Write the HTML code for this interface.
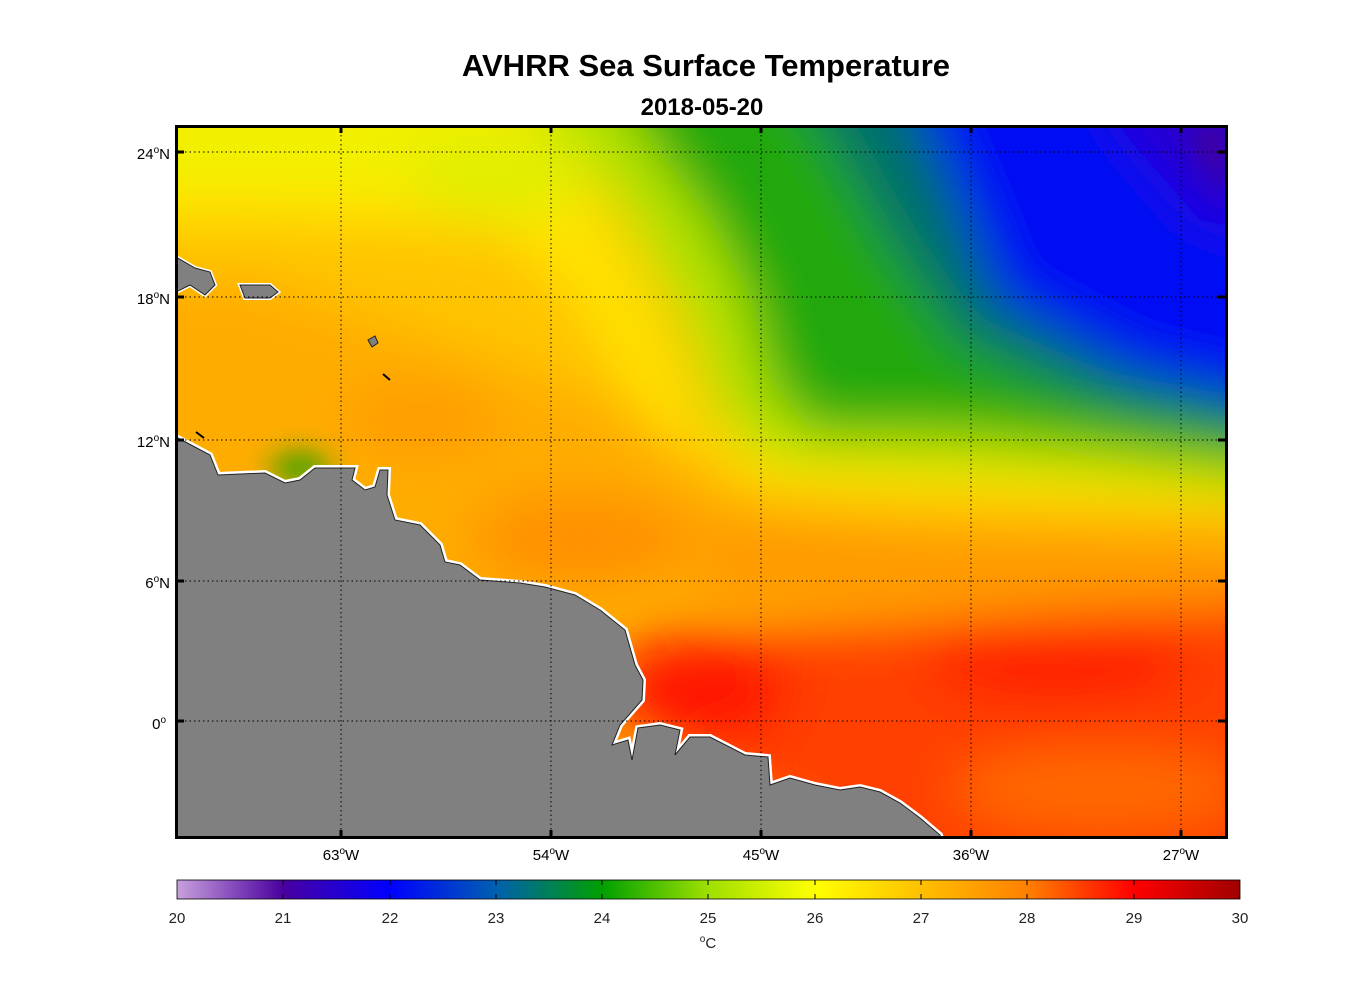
<!DOCTYPE html>
<html><head><meta charset="utf-8"><style>
body{margin:0;background:#fff;}
svg text{font-family:"Liberation Sans",Arial,sans-serif;}
</style></head><body>
<svg width="1356" height="1000" viewBox="0 0 1356 1000" xmlns="http://www.w3.org/2000/svg">
<defs>
<clipPath id="pc"><rect x="176" y="126" width="1050" height="711"/></clipPath>
<filter id="bl" filterUnits="userSpaceOnUse" x="0" y="0" width="1356" height="1000"><feGaussianBlur stdDeviation="26"/></filter>
<filter id="bl2" filterUnits="userSpaceOnUse" x="0" y="0" width="1356" height="1000"><feGaussianBlur stdDeviation="14"/></filter>
<linearGradient id="cb" x1="0" x2="1" y1="0" y2="0">
<stop offset="0" stop-color="#c8a0dc"/>
<stop offset="0.1" stop-color="#4a00a0"/>
<stop offset="0.2" stop-color="#0000ff"/>
<stop offset="0.3" stop-color="#0060b0"/>
<stop offset="0.4" stop-color="#00a000"/>
<stop offset="0.5" stop-color="#9fe000"/>
<stop offset="0.6" stop-color="#ffff00"/>
<stop offset="0.7" stop-color="#ffc000"/>
<stop offset="0.8" stop-color="#ff8000"/>
<stop offset="0.9" stop-color="#ff0000"/>
<stop offset="1" stop-color="#a00000"/>
</linearGradient>
</defs>
<text x="706" y="76" font-size="31" font-weight="bold" text-anchor="middle">AVHRR Sea Surface Temperature</text>
<text x="702" y="115" font-size="24" font-weight="bold" text-anchor="middle">2018-05-20</text>
<g clip-path="url(#pc)">
<rect x="176" y="126" width="1050" height="711" fill="#ffac00"/>
<g filter="url(#bl)">
<polygon points="100,60 600,60 680,300 740,460 1300,490 1300,530 900,520 760,500 600,400 400,330 250,280 100,280" fill="#ffc400"/>
<polygon points="100,60 540,60 600,200 660,330 700,440 1300,470 1300,510 760,490 660,440 580,300 500,230 250,220 100,220" fill="#ffe400"/>
<polygon points="100,60 470,60 520,140 400,190 250,190 100,190" fill="#f2f000"/>
<polygon points="400,150 560,120 590,190 520,220 430,210" fill="#e0ee00"/>
<polygon points="500,60 1300,60 1300,500 1150,480 1000,470 780,460 720,420 690,330 630,220 570,140" fill="#b0e200"/>
<polygon points="600,60 1300,60 1300,470 1100,445 950,430 810,430 770,380 750,300 710,220 650,140" fill="#20a810"/>
<polygon points="780,60 1300,60 1300,440 1100,400 960,340 890,240 840,150" fill="#00706a"/>
<polygon points="900,60 1300,60 1300,410 1130,370 1000,300 960,200" fill="#0008f4"/>
<polygon points="1080,60 1300,60 1300,240 1200,220 1130,140" fill="#2800d0"/>
<polygon points="700,520 1300,540 1300,620 700,600" fill="#ff9a00"/>
<polygon points="620,650 800,630 1300,600 1300,900 940,900 700,770" fill="#ff4000"/>
<ellipse cx="700" cy="690" rx="90" ry="55" fill="#ff1800"/>
<ellipse cx="1060" cy="660" rx="130" ry="45" fill="#ff2000"/>
<ellipse cx="580" cy="540" rx="110" ry="45" fill="#ff9000"/>
<ellipse cx="420" cy="420" rx="80" ry="35" fill="#ff9c00"/>
<ellipse cx="1100" cy="790" rx="150" ry="40" fill="#ff6a00"/>
</g>
<polygon points="1226,126 1226,200 1190,126" fill="#4a0090" filter="url(#bl2)"/>
<ellipse cx="300" cy="468" rx="30" ry="14" fill="#20a000" filter="url(#bl2)"/>
<g fill="#808080" stroke="#fff" stroke-width="6" stroke-linejoin="miter">
<polygon points="176,437 210,455 218,475 265,473 285,483 300,480 315,468 355,468 352,480 365,490 375,487 380,470 388,470 387,495 395,520 420,525 440,545 445,562 460,565 480,580 520,583 545,587 575,595 600,610 625,630 635,665 643,680 642,700 620,725 612,745 628,740 632,760 638,728 660,725 680,730 675,755 690,737 710,737 745,755 768,757 770,785 790,778 815,785 840,790 860,787 880,792 900,803 920,818 940,835 945,850 176,850"/>
</g>
<g fill="#808080" stroke="#222" stroke-width="1">
<polygon points="176,437 210,455 218,475 265,473 285,483 300,480 315,468 355,468 352,480 365,490 375,487 380,470 388,470 387,495 395,520 420,525 440,545 445,562 460,565 480,580 520,583 545,587 575,595 600,610 625,630 635,665 643,680 642,700 620,725 612,745 628,740 632,760 638,728 660,725 680,730 675,755 690,737 710,737 745,755 768,757 770,785 790,778 815,785 840,790 860,787 880,792 900,803 920,818 940,835 945,850 176,850"/>
<polygon points="176,257 195,268 210,272 215,285 205,295 190,285 176,292" stroke="#fff" stroke-width="4"/>
<polygon points="176,257 195,268 210,272 215,285 205,295 190,285 176,292"/>
<polygon points="240,285 270,285 278,292 270,298 245,298" stroke="#fff" stroke-width="4"/>
<polygon points="240,285 270,285 278,292 270,298 245,298"/>
<polygon points="368,340 375,336 378,343 372,347"/>
<line x1="383" y1="374" x2="390" y2="380" stroke="#000" stroke-width="2"/>
<line x1="196" y1="432" x2="204" y2="438" stroke="#000" stroke-width="2"/>
</g>
<g stroke="#000" stroke-width="1" stroke-dasharray="1.5,3">
<line x1="341" y1="126" x2="341" y2="837"/><line x1="551" y1="126" x2="551" y2="837"/>
<line x1="761" y1="126" x2="761" y2="837"/><line x1="971" y1="126" x2="971" y2="837"/>
<line x1="1181" y1="126" x2="1181" y2="837"/>
<line x1="176" y1="152" x2="1226" y2="152"/><line x1="176" y1="297" x2="1226" y2="297"/>
<line x1="176" y1="440" x2="1226" y2="440"/><line x1="176" y1="581" x2="1226" y2="581"/>
<line x1="176" y1="721" x2="1226" y2="721"/>
</g>
</g>
<rect x="176.5" y="126.5" width="1050" height="711" fill="none" stroke="#000" stroke-width="3"/>
<g stroke="#000" stroke-width="3">
<line x1="341" y1="126" x2="341" y2="133"/><line x1="551" y1="126" x2="551" y2="133"/><line x1="761" y1="126" x2="761" y2="133"/><line x1="971" y1="126" x2="971" y2="133"/><line x1="1181" y1="126" x2="1181" y2="133"/>
<line x1="341" y1="830" x2="341" y2="837"/><line x1="551" y1="830" x2="551" y2="837"/><line x1="761" y1="830" x2="761" y2="837"/><line x1="971" y1="830" x2="971" y2="837"/><line x1="1181" y1="830" x2="1181" y2="837"/>
<line x1="176" y1="152" x2="184" y2="152"/><line x1="176" y1="297" x2="184" y2="297"/><line x1="176" y1="440" x2="184" y2="440"/><line x1="176" y1="581" x2="184" y2="581"/><line x1="176" y1="721" x2="184" y2="721"/>
<line x1="1218" y1="152" x2="1226" y2="152"/><line x1="1218" y1="297" x2="1226" y2="297"/><line x1="1218" y1="440" x2="1226" y2="440"/><line x1="1218" y1="581" x2="1226" y2="581"/><line x1="1218" y1="721" x2="1226" y2="721"/>
</g>
<g font-size="15" text-anchor="end">
<text x="170" y="159">24<tspan font-size="10" dy="-6">o</tspan><tspan dy="6">N</tspan></text>
<text x="170" y="304">18<tspan font-size="10" dy="-6">o</tspan><tspan dy="6">N</tspan></text>
<text x="170" y="447">12<tspan font-size="10" dy="-6">o</tspan><tspan dy="6">N</tspan></text>
<text x="170" y="588">6<tspan font-size="10" dy="-6">o</tspan><tspan dy="6">N</tspan></text>
<text x="166" y="729">0<tspan font-size="10" dy="-6">o</tspan></text>
</g>
<g font-size="15" text-anchor="middle">
<text x="341" y="860">63<tspan font-size="10" dy="-6">o</tspan><tspan dy="6">W</tspan></text>
<text x="551" y="860">54<tspan font-size="10" dy="-6">o</tspan><tspan dy="6">W</tspan></text>
<text x="761" y="860">45<tspan font-size="10" dy="-6">o</tspan><tspan dy="6">W</tspan></text>
<text x="971" y="860">36<tspan font-size="10" dy="-6">o</tspan><tspan dy="6">W</tspan></text>
<text x="1181" y="860">27<tspan font-size="10" dy="-6">o</tspan><tspan dy="6">W</tspan></text>
</g>
<rect x="177" y="880" width="1063" height="19" fill="url(#cb)" stroke="#000" stroke-width="0.8"/>
<g stroke="#000" stroke-width="1">
<line x1="283" y1="894" x2="283" y2="899"/><line x1="390" y1="894" x2="390" y2="899"/><line x1="496" y1="894" x2="496" y2="899"/><line x1="602" y1="894" x2="602" y2="899"/><line x1="708" y1="894" x2="708" y2="899"/><line x1="815" y1="894" x2="815" y2="899"/><line x1="921" y1="894" x2="921" y2="899"/><line x1="1027" y1="894" x2="1027" y2="899"/><line x1="1134" y1="894" x2="1134" y2="899"/>
<line x1="283" y1="880" x2="283" y2="885"/><line x1="390" y1="880" x2="390" y2="885"/><line x1="496" y1="880" x2="496" y2="885"/><line x1="602" y1="880" x2="602" y2="885"/><line x1="708" y1="880" x2="708" y2="885"/><line x1="815" y1="880" x2="815" y2="885"/><line x1="921" y1="880" x2="921" y2="885"/><line x1="1027" y1="880" x2="1027" y2="885"/><line x1="1134" y1="880" x2="1134" y2="885"/>
</g>
<g font-size="15" text-anchor="middle" fill="#222">
<text x="177" y="923">20</text><text x="283" y="923">21</text><text x="390" y="923">22</text><text x="496" y="923">23</text><text x="602" y="923">24</text><text x="708" y="923">25</text><text x="815" y="923">26</text><text x="921" y="923">27</text><text x="1027" y="923">28</text><text x="1134" y="923">29</text><text x="1240" y="923">30</text>
<text x="708" y="948"><tspan font-size="10" dy="-6">o</tspan><tspan dy="6">C</tspan></text>
</g>
</svg>
</body></html>
